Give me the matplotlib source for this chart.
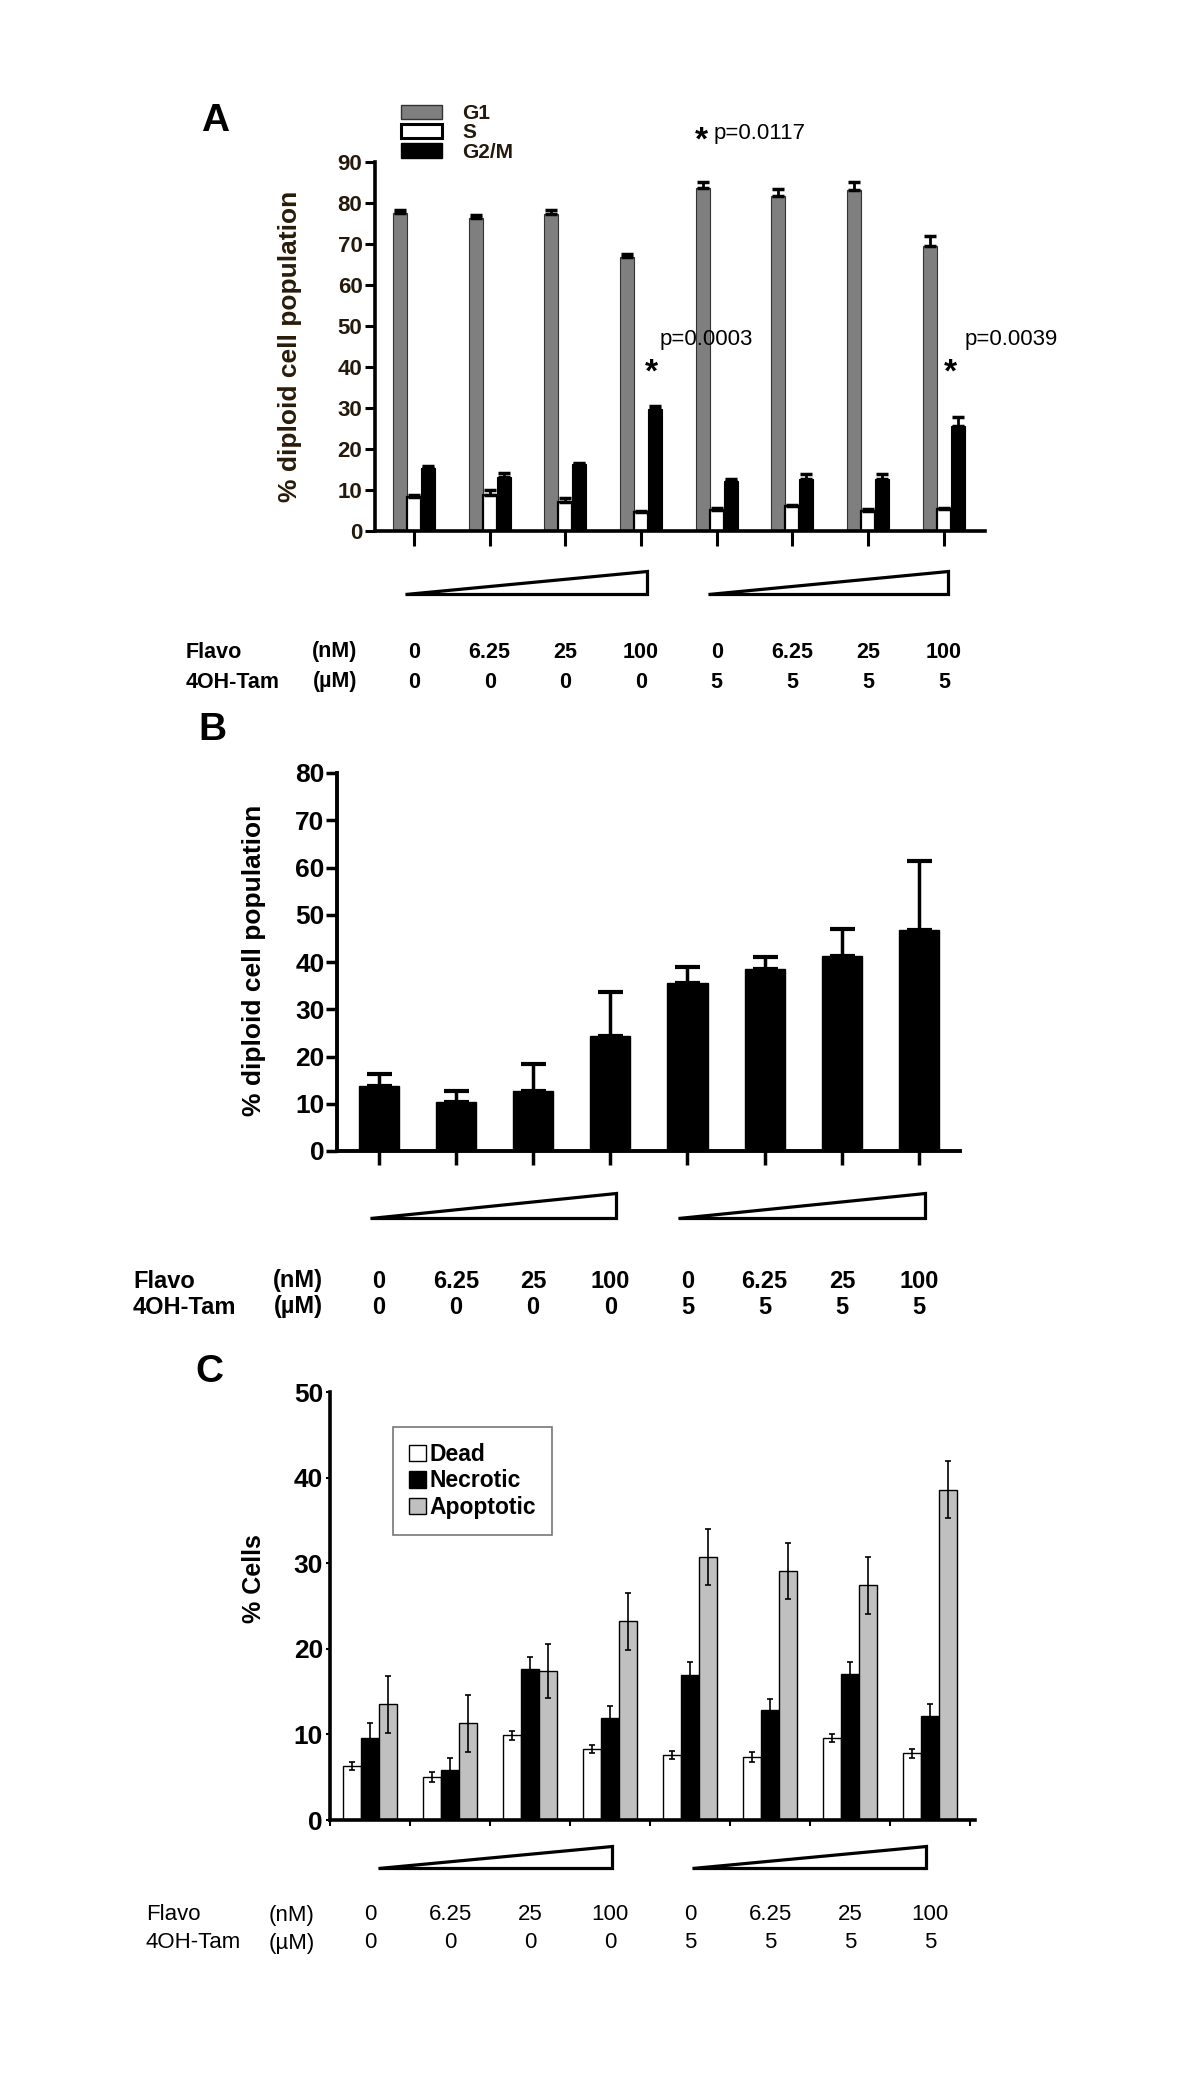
import matplotlib
matplotlib.use('Agg')
import matplotlib.pyplot as plt
import numpy as np
from matplotlib.patches import Polygon, Patch
from matplotlib.transforms import blended_transform_factory

plt.rcParams['font.family'] = ['Liberation Sans', 'DejaVu Sans']

W, H, DPI = 1200, 2083, 100

# ---------------- data ----------------
flavo_labels = ['0', '6.25', '25', '100', '0', '6.25', '25', '100']
tam_labels = ['0', '0', '0', '0', '5', '5', '5', '5']

# Panel A: cell cycle distribution
g1_vals = [77.6, 76.4, 77.3, 66.9, 83.7, 81.8, 83.2, 69.6]
g1_err = [0.6, 0.6, 1.1, 0.6, 1.5, 1.6, 2.0, 2.4]
s_vals = [8.2, 8.7, 7.0, 4.6, 5.2, 6.0, 5.0, 5.3]
s_err = [0.5, 1.2, 1.0, 0.4, 0.3, 0.3, 0.4, 0.3]
g2m_vals = [15.3, 13.2, 16.3, 29.8, 12.2, 12.7, 12.7, 25.6]
g2m_err = [0.5, 1.0, 0.3, 0.8, 0.4, 1.3, 1.3, 2.2]

# Panel B
b_vals = [13.8, 10.4, 12.8, 24.4, 35.5, 38.5, 41.2, 46.8]
b_err = [2.5, 2.3, 5.6, 9.2, 3.5, 2.6, 5.8, 14.6]

# Panel C
dead_vals = [6.3, 5.0, 9.9, 8.3, 7.6, 7.4, 9.6, 7.8]
dead_err = [0.5, 0.6, 0.5, 0.5, 0.5, 0.6, 0.5, 0.5]
necrotic_vals = [9.6, 5.8, 17.6, 11.9, 16.9, 12.8, 17.0, 12.1]
necrotic_err = [1.7, 1.5, 1.5, 1.4, 1.6, 1.3, 1.4, 1.5]
apoptotic_vals = [13.5, 11.3, 17.4, 23.2, 30.7, 29.1, 27.4, 38.6]
apoptotic_err = [3.3, 3.3, 3.2, 3.3, 3.3, 3.3, 3.3, 3.3]

# ---------------- figure ----------------
fig = plt.figure(figsize=(W / DPI, H / DPI), dpi=DPI)
fig.patch.set_facecolor('white')


def fx(x):
    return x / W


def fy(y):
    return 1 - y / H


def add_ax(x0, x1, ytop, ybot):
    return fig.add_axes([x0 / W, 1 - ybot / H, (x1 - x0) / W, (ybot - ytop) / H])


def wedge(x0, x1, ytop, ybot):
    poly = Polygon([(fx(x0), fy(ybot)), (fx(x1), fy(ybot)), (fx(x1), fy(ytop))],
                   closed=True, transform=fig.transFigure, facecolor='white',
                   edgecolor='black', lw=2.3, joinstyle='miter')
    fig.add_artist(poly)


def label_rows(ax, y1, y2, xl, xr, **kw):
    fig.text(fx(xl), fy(y1), 'Flavo', ha='left', va='center', **kw)
    fig.text(fx(xr), fy(y1), '(nM)', ha='right', va='center', **kw)
    fig.text(fx(xl), fy(y2), '4OH-Tam', ha='left', va='center', **kw)
    fig.text(fx(xr), fy(y2), '(\u00b5M)', ha='right', va='center', **kw)
    tr = blended_transform_factory(ax.transData, fig.transFigure)
    for i, (f, t) in enumerate(zip(flavo_labels, tam_labels)):
        ax.text(i, fy(y1), f, transform=tr, ha='center', va='center', **kw)
        ax.text(i, fy(y2), t, transform=tr, ha='center', va='center', **kw)


def style_axes(ax, lw=2.5):
    for s in ['top', 'right']:
        ax.spines[s].set_visible(False)
    for s in ['left', 'bottom']:
        ax.spines[s].set_linewidth(lw)
    ax.set_facecolor('none')


x = np.arange(8)
zeros = np.zeros(8)

# ================= Panel A =================
tick_col = '#24190c'
axA = add_ax(375, 985, 162, 531)
wA = 0.185
axA.bar(x - wA, g1_vals, wA, color='#7f7f7f', edgecolor='#333333', lw=0.8, zorder=2)
axA.bar(x, s_vals, wA, color='white', edgecolor='black', lw=1.6, zorder=2)
axA.bar(x + wA, g2m_vals, wA, color='black', edgecolor='black', lw=0.8, zorder=2)
for off, v, e in [(-wA, g1_vals, g1_err), (0, s_vals, s_err), (wA, g2m_vals, g2m_err)]:
    axA.errorbar(x + off, v, yerr=[zeros, e], fmt='none', ecolor='black',
                 elinewidth=2, capsize=4.5, capthick=2.5, zorder=3)
axA.set_xlim(-0.515, 7.543)
axA.set_ylim(0, 90)
style_axes(axA, 2.6)
axA.set_yticks(range(0, 91, 10))
axA.tick_params(axis='y', direction='out', length=7, width=2.2, labelsize=16,
                pad=2, labelcolor=tick_col)
for t in axA.get_yticklabels():
    t.set_fontweight('bold')
axA.set_xticks(x)
axA.set_xticklabels([])
axA.tick_params(axis='x', direction='out', length=11, width=2.2)
axA.set_ylabel('% diploid cell population', fontsize=19, fontweight='bold', color='#2a1a08')
axA.yaxis.set_label_coords(-0.12, 0.5)

# significance annotations
axA.text(3 + wA - 0.05, 38.5, '*', fontsize=24, fontweight='bold', ha='center', va='center')
axA.text(3.24, 46.6, 'p=0.0003', fontsize=16, ha='left', va='center')
axA.text(7 + wA - 0.1, 38.5, '*', fontsize=24, fontweight='bold', ha='center', va='center')
axA.text(7.27, 46.6, 'p=0.0039', fontsize=16, ha='left', va='center')
axA.text(3.80, 95.0, '*', fontsize=24, fontweight='bold', ha='center', va='center', clip_on=False)
axA.text(3.96, 97.0, 'p=0.0117', fontsize=16, ha='left', va='center', clip_on=False)

legA = axA.legend(handles=[Patch(facecolor='#7f7f7f', edgecolor='#333333', lw=1, label='G1'),
                           Patch(facecolor='white', edgecolor='black', lw=2.2, label='S'),
                           Patch(facecolor='black', edgecolor='black', lw=1, label='G2/M')],
                  loc='upper left', bbox_to_anchor=(fx(401), fy(104)), bbox_transform=fig.transFigure,
                  frameon=False, borderpad=0, borderaxespad=0, handlelength=1.95, handleheight=0.68,
                  handletextpad=1.0, labelspacing=0.02, prop={'size': 15, 'weight': 'bold'})
for t in legA.get_texts():
    t.set_color(tick_col)

fig.text(fx(215), fy(121), 'A', fontsize=28, fontweight='bold', ha='center', va='center')
wedge(405, 647, 571, 594)
wedge(708, 948, 571, 594)
label_rows(axA, 652, 682, 186, 357, fontsize=15.5, fontweight='bold')

# ================= Panel B =================
axB = add_ax(337, 960, 773, 1151)
axB.bar(x, b_vals, 0.52, color='black', edgecolor='black', zorder=2)
axB.errorbar(x, b_vals, yerr=[zeros, b_err], fmt='none', ecolor='black',
             elinewidth=2.5, capsize=9, capthick=3, zorder=3)
axB.set_xlim(-0.539, 7.53)
axB.set_ylim(0, 80)
style_axes(axB, 2.8)
axB.set_yticks(range(0, 81, 10))
axB.tick_params(axis='y', direction='out', length=8, width=2.5, labelsize=19, pad=1)
for t in axB.get_yticklabels():
    t.set_fontweight('bold')
axB.set_xticks(x)
axB.set_xticklabels([])
axB.tick_params(axis='x', direction='out', length=10, width=2.5)
axB.set_ylabel('% diploid cell population', fontsize=19, fontweight='bold')
axB.yaxis.set_label_coords(-0.114, 0.503)

fig.text(fx(212), fy(730), 'B', fontsize=28, fontweight='bold', ha='center', va='center')
wedge(370, 616, 1193, 1218)
wedge(678, 925, 1193, 1218)
label_rows(axB, 1281, 1307, 133, 323, fontsize=17, fontweight='bold')

# ================= Panel C =================
axC = add_ax(330, 975, 1392, 1820)
wC = 0.225
axC.bar(x - wC, dead_vals, wC, color='white', edgecolor='black', lw=1, zorder=2)
axC.bar(x, necrotic_vals, wC, color='black', edgecolor='black', lw=1, zorder=2)
axC.bar(x + wC, apoptotic_vals, wC, color='#c0c0c0', edgecolor='black', lw=1, zorder=2)
for off, v, e in [(-wC, dead_vals, dead_err), (0, necrotic_vals, necrotic_err),
                  (wC, apoptotic_vals, apoptotic_err)]:
    axC.errorbar(x + off, v, yerr=e, fmt='none', ecolor='black',
                 elinewidth=1.2, capsize=2.5, capthick=1.2, zorder=3)
axC.set_xlim(-0.5, 7.5625)
axC.set_ylim(0, 50)
style_axes(axC, 2.6)
axC.set_yticks(range(0, 51, 10))
axC.tick_params(axis='y', direction='out', length=3, width=1.5, labelsize=19, pad=2)
for t in axC.get_yticklabels():
    t.set_fontweight('bold')
axC.set_xticks(np.arange(-0.5, 8, 1.0))
axC.set_xticklabels([])
axC.tick_params(axis='x', direction='out', length=4, width=1.5)
axC.set_ylabel('% Cells', fontsize=18, fontweight='bold')
axC.yaxis.set_label_coords(-0.099, 0.565)

legC = axC.legend(handles=[Patch(facecolor='white', edgecolor='black', lw=1, label='Dead'),
                           Patch(facecolor='black', edgecolor='black', lw=1, label='Necrotic'),
                           Patch(facecolor='#c0c0c0', edgecolor='black', lw=1, label='Apoptotic')],
                  loc='upper left', bbox_to_anchor=(fx(393), fy(1427)), bbox_transform=fig.transFigure,
                  frameon=True, fancybox=False, borderpad=0.7, borderaxespad=0,
                  handlelength=0.75, handleheight=0.75, handletextpad=0.15, labelspacing=0.15,
                  prop={'size': 16.5, 'weight': 'bold'})
legC.get_frame().set_edgecolor('#555555')
legC.get_frame().set_linewidth(1.2)

fig.text(fx(209), fy(1372), 'C', fontsize=28, fontweight='bold', ha='center', va='center')
wedge(378, 612, 1846, 1868)
wedge(692, 926, 1846, 1868)
label_rows(axC, 1915, 1943, 146, 315, fontsize=16)

fig.savefig('out.png', dpi=DPI, facecolor='white')
